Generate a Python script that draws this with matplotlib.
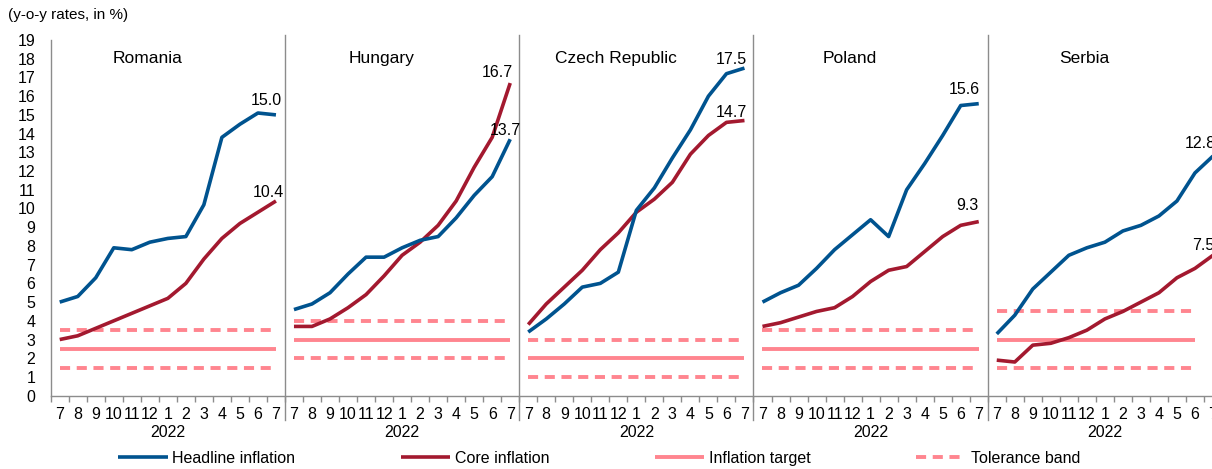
import matplotlib
matplotlib.use("Agg")
import matplotlib.pyplot as plt
import numpy as np

plt.rcParams['font.family'] = ['Liberation Sans', 'DejaVu Sans']

# ---------------- data ----------------
countries = ["Romania", "Hungary", "Czech Republic", "Poland", "Serbia"]
months = ["7", "8", "9", "10", "11", "12", "1", "2", "3", "4", "5", "6", "7"]
year_label = "2022"

romania_headline = [5.0, 5.3, 6.3, 7.9, 7.8, 8.2, 8.4, 8.5, 10.2, 13.8, 14.5, 15.1, 15.0]
romania_core = [3.0, 3.2, 3.6, 4.0, 4.4, 4.8, 5.2, 6.0, 7.3, 8.4, 9.2, 9.8, 10.4]
hungary_headline = [4.6, 4.9, 5.5, 6.5, 7.4, 7.4, 7.9, 8.3, 8.5, 9.5, 10.7, 11.7, 13.7]
hungary_core = [3.7, 3.7, 4.1, 4.7, 5.4, 6.4, 7.5, 8.2, 9.1, 10.4, 12.2, 13.8, 16.7]
czech_headline = [3.4, 4.1, 4.9, 5.8, 6.0, 6.6, 9.9, 11.1, 12.7, 14.2, 16.0, 17.2, 17.5]
czech_core = [3.8, 4.9, 5.8, 6.7, 7.8, 8.7, 9.8, 10.5, 11.4, 12.9, 13.9, 14.6, 14.7]
poland_headline = [5.0, 5.5, 5.9, 6.8, 7.8, 8.6, 9.4, 8.5, 11.0, 12.4, 13.9, 15.5, 15.6]
poland_core = [3.7, 3.9, 4.2, 4.5, 4.7, 5.3, 6.1, 6.7, 6.9, 7.7, 8.5, 9.1, 9.3]
serbia_headline = [3.3, 4.3, 5.7, 6.6, 7.5, 7.9, 8.2, 8.8, 9.1, 9.6, 10.4, 11.9, 12.8]
serbia_core = [1.9, 1.8, 2.7, 2.8, 3.1, 3.5, 4.1, 4.5, 5.0, 5.5, 6.3, 6.8, 7.5]

inflation_targets = [2.5, 3.0, 2.0, 2.5, 3.0]
band_lower = [1.5, 2.0, 1.0, 1.5, 1.5]
band_upper = [3.5, 4.0, 3.0, 3.5, 4.5]
target_months = [13, 13, 13, 13, 12]

headline_series = [romania_headline, hungary_headline, czech_headline, poland_headline, serbia_headline]
core_series = [romania_core, hungary_core, czech_core, poland_core, serbia_core]

legend_labels = ["Headline inflation", "Core inflation", "Inflation target", "Tolerance band"]

# ---------------- style ----------------
BLUE = "#00538F"
RED = "#A3192F"
PINK = "#FF858F"
GREY = "#8C8C8C"

W, H = 1212, 469
DPI = 100
fig = plt.figure(figsize=(W / DPI, H / DPI), dpi=DPI)
cat_w = 18.02
n_cat = len(months) * len(countries)
y0_px, y19_px = 395.7, 40.0
ax = fig.add_axes([50.7 / W, (H - y0_px) / H, n_cat * cat_w / W, (y0_px - y19_px) / H])
ax.set_xlim(0, n_cat)
ax.set_ylim(0, 19)

px = 72.0 / DPI  # points per pixel
head_off = [(-10, 14), (-5, 9), (-13, 9), (-14, 14), (-13, 13)]
core_off = [(-8, 9), (-13, 11), (-13, 8), (-11, 16), (-10, 10)]

handles = None
for k, name in enumerate(countries):
    x0 = k * len(months)
    xs = x0 + np.arange(len(months)) + 0.5
    nt = target_months[k]
    xt = xs[:nt]
    hb1, = ax.plot(xt, [band_upper[k]] * nt, color=PINK, lw=2.8,
                   linestyle=(0, (2.6, 1.7)), dash_capstyle='butt')
    ax.plot(xt, [band_lower[k]] * nt, color=PINK, lw=2.8,
            linestyle=(0, (2.6, 1.7)), dash_capstyle='butt')
    ht, = ax.plot(xt, [inflation_targets[k]] * nt, color=PINK, lw=2.8, solid_capstyle='butt')
    hc, = ax.plot(xs, core_series[k], color=RED, lw=2.6, solid_capstyle='butt')
    hh, = ax.plot(xs, headline_series[k], color=BLUE, lw=2.6, solid_capstyle='butt')
    handles = [hh, hc, ht, hb1]

    ax.text(x0 + 5.35, 18.0, name, ha='center', va='center', fontsize=12.5, color='black')
    ax.text(x0 + 6.5, -1.94, year_label, ha='center', va='center', fontsize=11.5, clip_on=False)

    dx, dy = head_off[k]
    ax.annotate(f"{headline_series[k][-1]:.1f}", xy=(xs[-1], headline_series[k][-1]),
                xytext=(dx * px, dy * px), textcoords='offset points',
                ha='center', va='center', fontsize=11.5, annotation_clip=False)
    dx, dy = core_off[k]
    ax.annotate(f"{core_series[k][-1]:.1f}", xy=(xs[-1], core_series[k][-1]),
                xytext=(dx * px, dy * px), textcoords='offset points',
                ha='center', va='center', fontsize=11.5, annotation_clip=False)

    if k > 0:
        ax.axvline(x0, ymin=-1.3 / 19, ymax=19.27 / 19, color=GREY, lw=1, clip_on=False)

# axes styling
for s in ['top', 'right']:
    ax.spines[s].set_visible(False)
for s in ['left', 'bottom']:
    ax.spines[s].set_color(GREY)
    ax.spines[s].set_linewidth(1)

ax.set_yticks(range(0, 20))
ax.tick_params(axis='y', length=0, pad=11, labelsize=11.5)

ax.set_xticks(np.arange(0, n_cat + 1))
ax.set_xticklabels([])
ax.set_xticks(np.arange(n_cat) + 0.5, minor=True)
ax.set_xticklabels(months * len(countries), minor=True)
ax.tick_params(axis='x', which='major', length=4, direction='out', color=GREY, width=1)
ax.tick_params(axis='x', which='minor', length=0, pad=8, labelsize=11.5)

fig.text(8 / W, 1 - 15 / H, "(y-o-y rates, in %)", ha='left', va='center', fontsize=11)

fig.legend(handles, legend_labels, loc='center left', bbox_to_anchor=(118 / W, 1 - 458 / H),
           ncol=4, frameon=False, fontsize=11.5, borderpad=0, borderaxespad=0,
           handlelength=3.1, handletextpad=0.3, columnspacing=6.6)

fig.savefig("out.png", dpi=DPI)
